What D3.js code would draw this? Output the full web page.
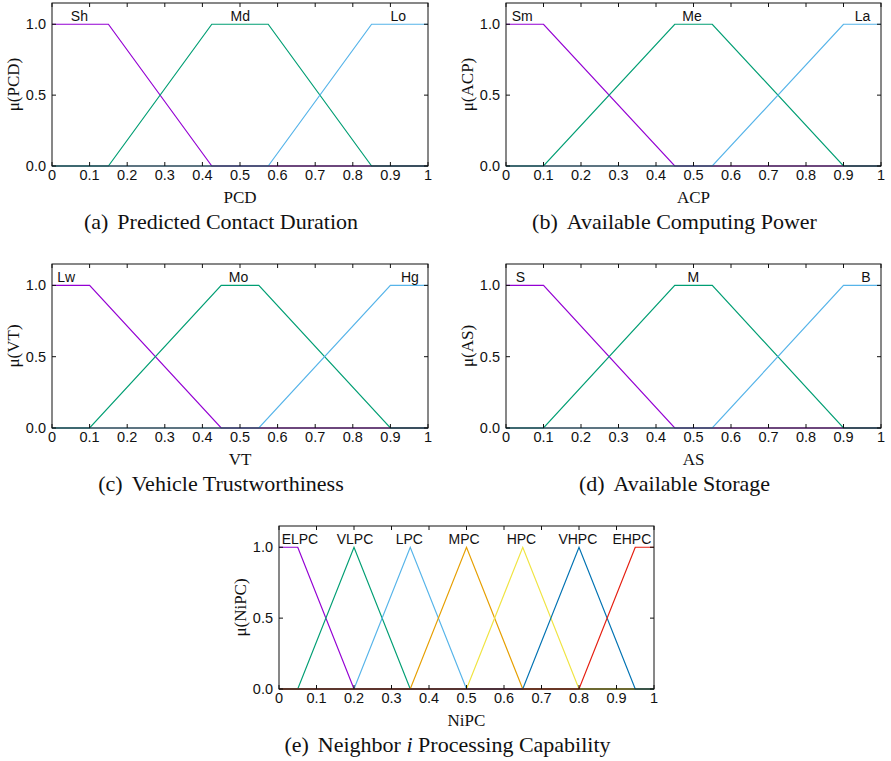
<!DOCTYPE html>
<html>
<head>
<meta charset="utf-8">
<script src="https://cdn.jsdelivr.net/npm/d3@7"></script>
<style>
  body { margin: 0; background: #fff; }
  svg { display: block; }
  .tick-label { font-family: "Liberation Sans", Arial, sans-serif; font-size: 14.5px; fill: #111; }
  .set-label { font-family: "Liberation Sans", Arial, sans-serif; font-size: 14px; fill: #111; }
  .axis-title { font-family: "Liberation Serif", "Times New Roman", serif; font-size: 17px; fill: #111; }
  .caption { font-family: "Liberation Serif", "Times New Roman", serif; font-size: 22px; fill: #111; }
</style>
</head>
<body>
<svg id="chart" width="891" height="761"></svg>
<script>
// Tick values shared by every panel
const xTicks = [0, 0.1, 0.2, 0.3, 0.4, 0.5, 0.6, 0.7, 0.8, 0.9, 1];
const yTicks = [0, 0.5, 1];

// Series colours (gnuplot default palette)
const colors = ['#9400d3', '#009e73', '#56b4e9', '#e69f00', '#f0e442', '#0072b2', '#e51e10'];

// (a) Predicted Contact Duration
const pcdNames = ['Sh', 'Md', 'Lo'];
const pcdLabelX = [0.05, 0.475, 0.9];
const pcdSets = [
  [[0, 1], [0.15, 1], [0.425, 0], [1, 0]],
  [[0, 0], [0.15, 0], [0.425, 1], [0.575, 1], [0.85, 0], [1, 0]],
  [[0, 0], [0.575, 0], [0.85, 1], [1, 1]]
];

// (b) Available Computing Power
const acpNames = ['Sm', 'Me', 'La'];
const acpLabelX = [0.015, 0.47, 0.93];
const acpSets = [
  [[0, 1], [0.1, 1], [0.45, 0], [1, 0]],
  [[0, 0], [0.1, 0], [0.45, 1], [0.55, 1], [0.9, 0], [1, 0]],
  [[0, 0], [0.55, 0], [0.9, 1], [1, 1]]
];

// (c) Vehicle Trustworthiness
const vtNames = ['Lw', 'Mo', 'Hg'];
const vtLabelX = [0.014, 0.47, 0.928];
const vtSets = [
  [[0, 1], [0.1, 1], [0.45, 0], [1, 0]],
  [[0, 0], [0.1, 0], [0.45, 1], [0.55, 1], [0.9, 0], [1, 0]],
  [[0, 0], [0.55, 0], [0.9, 1], [1, 1]]
];

// (d) Available Storage
const asNames = ['S', 'M', 'B'];
const asLabelX = [0.026, 0.484, 0.947];
const asSets = [
  [[0, 1], [0.1, 1], [0.45, 0], [1, 0]],
  [[0, 0], [0.1, 0], [0.45, 1], [0.55, 1], [0.9, 0], [1, 0]],
  [[0, 0], [0.55, 0], [0.9, 1], [1, 1]]
];

// (e) Neighbor i Processing Capability
const nipcNames = ['ELPC', 'VLPC', 'LPC', 'MPC', 'HPC', 'VHPC', 'EHPC'];
const nipcLabelX = [0.007, 0.154, 0.311, 0.452, 0.607, 0.745, 0.889];
const nipcSets = [
  [[0, 1], [0.05, 1], [0.2, 0], [1, 0]],
  [[0, 0], [0.05, 0], [0.2, 1], [0.35, 0], [1, 0]],
  [[0, 0], [0.2, 0], [0.35, 1], [0.5, 0], [1, 0]],
  [[0, 0], [0.35, 0], [0.5, 1], [0.65, 0], [1, 0]],
  [[0, 0], [0.5, 0], [0.65, 1], [0.8, 0], [1, 0]],
  [[0, 0], [0.65, 0], [0.8, 1], [0.95, 0], [1, 0]],
  [[0, 0], [0.8, 0], [0.95, 1], [1, 1]]
];

const panels = [
  { left: 52, top: 3, right: 428, bottom: 166, axis: 'PCD', caption: ['(a)', 'Predicted Contact Duration'],
    names: pcdNames, labelX: pcdLabelX, sets: pcdSets },
  { left: 506, top: 3, right: 881, bottom: 166, axis: 'ACP', caption: ['(b)', 'Available Computing Power'],
    names: acpNames, labelX: acpLabelX, sets: acpSets },
  { left: 52, top: 264, right: 428, bottom: 428, axis: 'VT', caption: ['(c)', 'Vehicle Trustworthiness'],
    names: vtNames, labelX: vtLabelX, sets: vtSets },
  { left: 506, top: 264, right: 881, bottom: 428, axis: 'AS', caption: ['(d)', 'Available Storage'],
    names: asNames, labelX: asLabelX, sets: asSets },
  { left: 279, top: 526, right: 654, bottom: 689, axis: 'NiPC', caption: ['(e)', 'Neighbor ', 'i', ' Processing Capability'],
    names: nipcNames, labelX: nipcLabelX, sets: nipcSets }
];

const svg = d3.select('#chart');
const xFmt = (d) => (d === 0 || d === 1 ? String(d) : d3.format('.1f')(d));
const yFmt = d3.format('.1f');
const TICK = 4;

panels.forEach((p) => {
  const x = d3.scaleLinear().domain([0, 1]).range([p.left, p.right]);
  const y = d3.scaleLinear().domain([0, 1.15]).range([p.bottom, p.top]);
  const g = svg.append('g');

  // Series
  const line = d3.line().x(d => x(d[0])).y(d => y(d[1]));
  g.selectAll('path.series')
    .data(p.sets)
    .join('path')
      .attr('class', 'series')
      .attr('d', line)
      .attr('fill', 'none')
      .attr('stroke', (d, i) => colors[i])
      .attr('stroke-width', 1.2);

  // Set labels above the 1.0 line
  g.selectAll('text.set-label')
    .data(p.names)
    .join('text')
      .attr('class', 'set-label')
      .attr('x', (d, i) => x(p.labelX[i]))
      .attr('y', y(1) - 3)
      .text(d => d);

  // Inward ticks, mirrored on top and right
  const tickG = g.append('g').attr('stroke', '#111').attr('stroke-width', 1);
  xTicks.forEach((t) => {
    tickG.append('line').attr('x1', x(t)).attr('x2', x(t)).attr('y1', p.bottom).attr('y2', p.bottom - TICK);
    tickG.append('line').attr('x1', x(t)).attr('x2', x(t)).attr('y1', p.top).attr('y2', p.top + TICK);
  });
  yTicks.forEach((t) => {
    tickG.append('line').attr('x1', p.left).attr('x2', p.left + TICK).attr('y1', y(t)).attr('y2', y(t));
    tickG.append('line').attr('x1', p.right).attr('x2', p.right - TICK).attr('y1', y(t)).attr('y2', y(t));
  });

  g.selectAll('text.xtick')
    .data(xTicks)
    .join('text')
      .attr('class', 'tick-label xtick')
      .attr('x', d => x(d))
      .attr('y', p.bottom + 14)
      .attr('text-anchor', 'middle')
      .text(xFmt);

  g.selectAll('text.ytick')
    .data(yTicks)
    .join('text')
      .attr('class', 'tick-label ytick')
      .attr('x', p.left - 6)
      .attr('y', d => y(d))
      .attr('dy', '0.35em')
      .attr('text-anchor', 'end')
      .text(yFmt);

  // Frame
  g.append('rect')
    .attr('x', p.left).attr('y', p.top)
    .attr('width', p.right - p.left).attr('height', p.bottom - p.top)
    .attr('fill', 'none').attr('stroke', '#111').attr('stroke-width', 1);

  // Axis titles
  const cx = (p.left + p.right) / 2;
  g.append('text')
    .attr('class', 'axis-title')
    .attr('x', cx).attr('y', p.bottom + 37)
    .attr('text-anchor', 'middle')
    .text(p.axis);

  g.append('text')
    .attr('class', 'axis-title')
    .attr('transform', `translate(${p.left - 33},${(p.top + p.bottom) / 2}) rotate(-90)`)
    .attr('text-anchor', 'middle')
    .text(`μ(${p.axis})`);

  // Caption, centred on the subfigure including its y title
  const cap = g.append('text')
    .attr('class', 'caption')
    .attr('x', cx - 19).attr('y', p.bottom + 63)
    .attr('text-anchor', 'middle');
  cap.append('tspan').text(p.caption[0]);
  cap.append('tspan').attr('dx', 9).text(p.caption[1]);
  if (p.caption.length > 2) {
    cap.append('tspan').attr('font-style', 'italic').text(p.caption[2]);
    cap.append('tspan').text(p.caption[3]);
  }
});
</script>
</body>
</html>
